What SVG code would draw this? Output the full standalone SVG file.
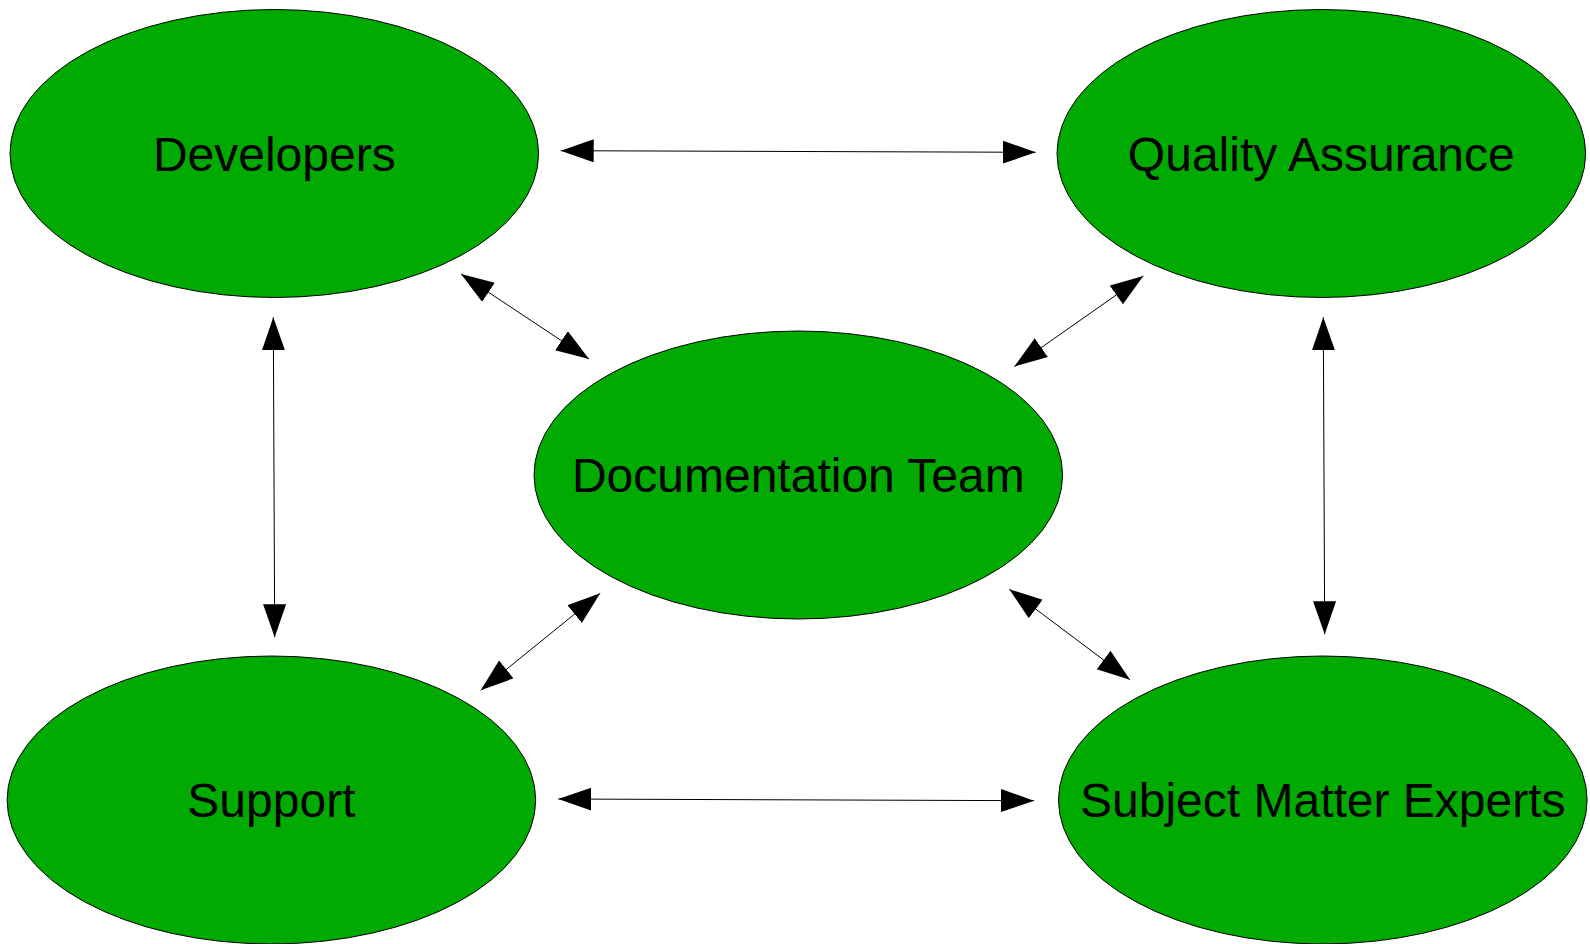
<svg xmlns="http://www.w3.org/2000/svg" width="1590" height="944" viewBox="0 0 1590 944">
<style>
.node{fill:#00AA00;stroke:#000;stroke-width:1}
.lbl{font-family:"Liberation Sans",Arial,sans-serif;font-size:48px;fill:#000;text-anchor:middle}
.conn{stroke:#000;stroke-width:1;fill:none;marker-start:url(#arr);marker-end:url(#arr)}
</style>
<defs>
<marker id="arr" markerUnits="userSpaceOnUse" markerWidth="34" markerHeight="24" refX="33" refY="11.5" orient="auto-start-reverse">
<path d="M0,0 L33,11.5 L0,23 Z" fill="#000"/>
</marker>
</defs>
<rect width="1590" height="944" fill="#fff"/>
<g id="connectors">
<line class="conn" x1="560.7" y1="150.7" x2="1035.7" y2="152.3"/>
<line class="conn" x1="558.3" y1="799" x2="1034" y2="800.7"/>
<line class="conn" x1="273.3" y1="317.3" x2="274.7" y2="637.3"/>
<line class="conn" x1="1323.3" y1="317.3" x2="1324.7" y2="634.3"/>
<line class="conn" x1="461" y1="274" x2="589" y2="359"/>
<line class="conn" x1="1143.3" y1="276" x2="1014.3" y2="366.5"/>
<line class="conn" x1="600.2" y1="593.3" x2="480.7" y2="690.2"/>
<line class="conn" x1="1009.3" y1="589.2" x2="1130" y2="679.8"/>
</g>
<g id="developers">
<ellipse class="node" cx="274.3" cy="153.5" rx="264.3" ry="144"/>
<text class="lbl" x="274.3" y="170.5">Developers</text>
</g>
<g id="quality-assurance">
<ellipse class="node" cx="1321.3" cy="153.5" rx="264.3" ry="144"/>
<text class="lbl" x="1321.3" y="170.5">Quality Assurance</text>
</g>
<g id="documentation-team">
<ellipse class="node" cx="798.3" cy="475" rx="264.3" ry="144"/>
<text class="lbl" x="798.3" y="492">Documentation Team</text>
</g>
<g id="support">
<ellipse class="node" cx="271.4" cy="800" rx="264.3" ry="144"/>
<text class="lbl" x="271.4" y="817">Support</text>
</g>
<g id="subject-matter-experts">
<ellipse class="node" cx="1322.8" cy="800" rx="264.3" ry="144"/>
<text class="lbl" x="1322.8" y="817">Subject Matter Experts</text>
</g>
</svg>
